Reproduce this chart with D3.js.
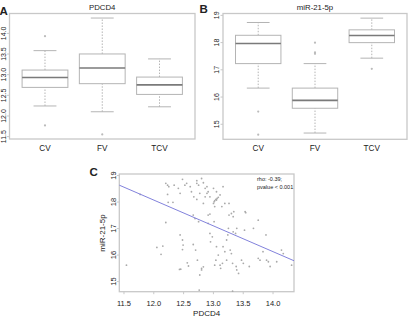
<!DOCTYPE html>
<html>
<head>
<meta charset="utf-8">
<script src="https://cdn.jsdelivr.net/npm/d3@7"></script>
<style>
    body { margin: 0; background: #fff; }
    text { font-family: "Liberation Sans", Arial, sans-serif; fill: #222; }
</style>
</head>
<body>
<svg id="chart" width="408" height="319"></svg>
<script>
let groups = ["CV", "FV", "TCV"];

// box stats per group: [lower whisker, q1, median, q3, upper whisker]
let pdcd4Stats = [
    [12.23, 12.68, 12.92, 13.10, 13.57],
    [12.09, 12.77, 13.15, 13.49, 14.36],
    [12.21, 12.51, 12.74, 12.93, 13.37]
];
let pdcd4Outliers = [[13.92, 11.76], [11.54], []];
let pdcd4Ticks = [11.5, 12, 12.5, 13, 13.5, 14];

let mirStats = [
    [16.31, 17.21, 17.95, 18.25, 18.72],
    [14.66, 15.57, 15.86, 16.31, 17.21],
    [17.41, 17.98, 18.24, 18.45, 18.88]
];
let mirOutliers = [[15.45, 14.60], [17.98, 17.62, 17.57], [17.02]];
let mirTicks = [15, 16, 17, 18, 19];

// scatter, panel C
let scatterPdcd4 = [11.55,11.78,12.06,12.16,12.13,12.21,12.21,12.24,12.26,12.24,
    12.25,12.33,12.35,12.42,12.45,12.49,12.53,12.56,12.62,12.64,
    12.45,12.49,12.50,12.49,12.46,12.44,12.57,12.59,12.67,12.71,
    12.74,12.78,12.77,12.81,12.81,12.84,12.67,12.70,12.76,12.68,
    12.73,12.78,12.84,12.87,12.87,12.90,12.92,12.73,12.76,12.73,
    12.84,12.90,12.81,12.95,12.92,12.95,12.92,12.95,12.96,12.99,
    13.01,13.02,13.03,13.05,13.07,13.09,13.06,13.01,13.06,13.03,
    13.12,13.15,13.17,13.20,13.02,13.06,13.09,13.05,13.12,13.13,
    13.03,13.17,13.20,13.16,13.23,13.25,13.29,13.23,13.26,13.27,
    13.31,13.34,13.27,13.31,13.33,13.34,13.38,13.33,13.35,13.40,
    13.43,13.40,13.39,13.48,13.53,13.54,13.55,13.51,13.61,13.68,
    13.76,13.76,13.79,13.84,13.89,13.90,13.93,13.96,14.07,14.15,
    14.18,14.32];
let scatterMir = [15.60,18.27,16.27,16.32,16.01,17.21,18.69,18.62,18.56,18.27,
    17.97,17.97,18.62,18.50,18.31,18.84,18.62,18.69,18.56,18.37,
    16.74,16.55,16.36,16.19,15.45,15.44,15.69,15.57,16.38,16.17,
    15.79,15.23,14.66,15.42,15.48,15.54,17.49,17.36,17.24,18.18,
    18.08,18.31,17.93,18.18,18.50,18.31,18.37,18.69,18.62,18.79,
    18.71,18.56,18.87,18.18,17.49,17.53,17.18,16.80,16.48,16.67,
    17.93,17.99,18.03,18.08,18.12,18.16,18.06,18.50,18.37,17.81,
    18.25,17.81,18.56,17.93,17.24,16.30,15.98,15.79,15.60,15.48,
    15.60,16.30,16.11,15.67,16.55,16.74,16.17,15.79,16.99,17.49,
    17.55,17.43,17.93,16.04,15.67,16.86,16.80,14.62,17.62,16.99,
    15.29,15.42,15.55,15.79,16.92,17.62,17.58,15.67,15.55,16.99,
    17.30,15.86,15.79,16.11,16.74,15.79,15.73,15.55,15.73,16.17,
    16.04,15.60];
let scatterXTicks = [11.5, 12, 12.5, 13, 13.5, 14];
let scatterYTicks = [15, 16, 17, 18, 19];
let fitIntercept = 29.74;
let fitSlope = -0.973;
let statsLines = ["rho: -0.39;", "pvalue < 0.001"];

let svg = d3.select("#chart");
let frameColor = "#c8c8c8";
let boxColor = "#b4b4b4";
let medianColor = "#7a7a7a";

function drawFrame(g, x, y) {
    g.append("rect")
        .attr("x", x.range()[0])
        .attr("y", y.range()[1])
        .attr("width", x.range()[1] - x.range()[0])
        .attr("height", y.range()[0] - y.range()[1])
        .attr("fill", "none")
        .attr("stroke", frameColor)
        .attr("stroke-width", 1.3);
}

function drawYAxis(g, y, ticks, left, fontSize) {
    let decimals = ticks.some(function (t) { return t % 1 !== 0; });
    let axis = g.append("g")
        .attr("transform", "translate(" + left + ",0)")
        .call(d3.axisLeft(y).tickValues(ticks).tickSize(2.5)
            .tickFormat(function (d) { return decimals ? d.toFixed(1) : d; }));
    axis.select(".domain").remove();
    axis.selectAll("line").attr("stroke", frameColor);
    // R style: labels turned parallel to the axis
    axis.selectAll("text")
        .attr("transform", "rotate(-90)")
        .attr("x", 0)
        .attr("y", -3.6)
        .attr("dy", 0)
        .attr("text-anchor", "middle")
        .style("font-size", fontSize + "px")
        .style("font-family", "Liberation Sans, Arial, sans-serif")
        .attr("fill", "#222");
}

function drawBoxPanel(opts) {
    let g = svg.append("g");
    let x = d3.scaleLinear().domain([0.38, 3.62]).range([opts.left, opts.right]);
    let y = d3.scaleLinear().domain(opts.yDomain).range([opts.bottom, opts.top]);
    let boxW = x(0.8) - x(0);

    drawFrame(g, x, y);
    drawYAxis(g, y, opts.ticks, opts.left, 7);

    let boxes = g.selectAll(".box")
        .data(opts.stats)
        .enter()
        .append("g")
        .attr("class", "box")
        .attr("transform", function (d, i) { return "translate(" + x(i + 1) + ",0)"; });

    // whiskers
    boxes.append("line")
        .attr("x1", 0).attr("x2", 0)
        .attr("y1", function (d) { return y(d[0]); })
        .attr("y2", function (d) { return y(d[1]); })
        .attr("stroke", boxColor).attr("stroke-dasharray", "1.5,1.5");
    boxes.append("line")
        .attr("x1", 0).attr("x2", 0)
        .attr("y1", function (d) { return y(d[3]); })
        .attr("y2", function (d) { return y(d[4]); })
        .attr("stroke", boxColor).attr("stroke-dasharray", "1.5,1.5");
    // staples
    [0, 4].forEach(function (k) {
        boxes.append("line")
            .attr("x1", -boxW / 4).attr("x2", boxW / 4)
            .attr("y1", function (d) { return y(d[k]); })
            .attr("y2", function (d) { return y(d[k]); })
            .attr("stroke", boxColor);
    });
    boxes.append("rect")
        .attr("x", -boxW / 2)
        .attr("width", boxW)
        .attr("y", function (d) { return y(d[3]); })
        .attr("height", function (d) { return y(d[1]) - y(d[3]); })
        .attr("fill", "#fff")
        .attr("stroke", boxColor);
    boxes.append("line")
        .attr("x1", -boxW / 2).attr("x2", boxW / 2)
        .attr("y1", function (d) { return y(d[2]); })
        .attr("y2", function (d) { return y(d[2]); })
        .attr("stroke", medianColor).attr("stroke-width", 1.6);

    boxes.each(function (d, i) {
        d3.select(this).selectAll(".out")
            .data(opts.outliers[i])
            .enter()
            .append("circle")
            .attr("cx", 0)
            .attr("cy", function (v) { return y(v); })
            .attr("r", 1.1)
            .attr("fill", "#bbb");
    });

    // category labels
    g.selectAll(".cat")
        .data(groups)
        .enter()
        .append("text")
        .attr("x", function (d, i) { return x(i + 1); })
        .attr("y", opts.bottom + 11.5)
        .attr("text-anchor", "middle")
        .style("font-size", "8.2px")
        .text(function (d) { return d; });

    g.append("text")
        .attr("x", (opts.left + opts.right) / 2)
        .attr("y", 9.5)
        .attr("text-anchor", "middle")
        .style("font-size", "7.8px")
        .text(opts.title);

    g.append("text")
        .attr("x", opts.letterX)
        .attr("y", opts.letterY)
        .style("font-size", "11.5px")
        .style("font-weight", "bold")
        .text(opts.letter);
}

drawBoxPanel({
    left: 9.5, right: 195, top: 13.5, bottom: 139,
    yDomain: [11.43, 14.47], ticks: pdcd4Ticks,
    stats: pdcd4Stats, outliers: pdcd4Outliers,
    title: "PDCD4", letter: "A", letterX: -0.5, letterY: 15
});
drawBoxPanel({
    left: 223, right: 407, top: 13.5, bottom: 139.3,
    yDomain: [14.43, 19.05], ticks: mirTicks,
    stats: mirStats, outliers: mirOutliers,
    title: "miR-21-5p", letter: "B", letterX: 199.5, letterY: 13
});

// panel C scatter
let gc = svg.append("g");
let xc = d3.scaleLinear().domain([11.43, 14.36]).range([119.3, 294]);
let yc = d3.scaleLinear().domain([14.6, 19.04]).range([291.7, 174]);

drawFrame(gc, xc, yc);
drawYAxis(gc, yc, scatterYTicks, 119.3, 7.5);

let xAxisC = gc.append("g")
    .attr("transform", "translate(0," + 291.7 + ")")
    .call(d3.axisBottom(xc).tickValues(scatterXTicks).tickSize(2.5).tickPadding(6)
        .tickFormat(d3.format(".1f")));
xAxisC.select(".domain").remove();
xAxisC.selectAll("line").attr("stroke", frameColor);
xAxisC.selectAll("text")
    .style("font-size", "7.5px")
    .style("font-family", "Liberation Sans, Arial, sans-serif")
    .attr("fill", "#222");

let pts = d3.zip(scatterPdcd4, scatterMir);
gc.selectAll(".pt")
    .data(pts)
    .enter()
    .append("circle")
    .attr("class", "pt")
    .attr("cx", function (d) { return xc(d[0]); })
    .attr("cy", function (d) { return yc(d[1]); })
    .attr("r", 0.9)
    .attr("fill", "#aaa");

gc.append("line")
    .attr("x1", xc(xc.domain()[0]))
    .attr("y1", yc(fitIntercept + fitSlope * xc.domain()[0]))
    .attr("x2", xc(xc.domain()[1]))
    .attr("y2", yc(fitIntercept + fitSlope * xc.domain()[1]))
    .attr("stroke", "#8282dc")
    .attr("stroke-width", 1);

gc.selectAll(".stat")
    .data(statsLines)
    .enter()
    .append("text")
    .attr("x", 257)
    .attr("y", function (d, i) { return 181 + i * 7.5; })
    .style("font-size", "5.5px")
    .text(function (d) { return d; });

gc.append("text")
    .attr("x", (119.3 + 294) / 2)
    .attr("y", 315.5)
    .attr("text-anchor", "middle")
    .style("font-size", "8px")
    .text("PDCD4");

gc.append("text")
    .attr("transform", "translate(105,233) rotate(-90)")
    .attr("text-anchor", "middle")
    .style("font-size", "8px")
    .text("miR-21-5p");

gc.append("text")
    .attr("x", 89.5)
    .attr("y", 176)
    .style("font-size", "11.5px")
    .style("font-weight", "bold")
    .text("C");
</script>
</body>
</html>
